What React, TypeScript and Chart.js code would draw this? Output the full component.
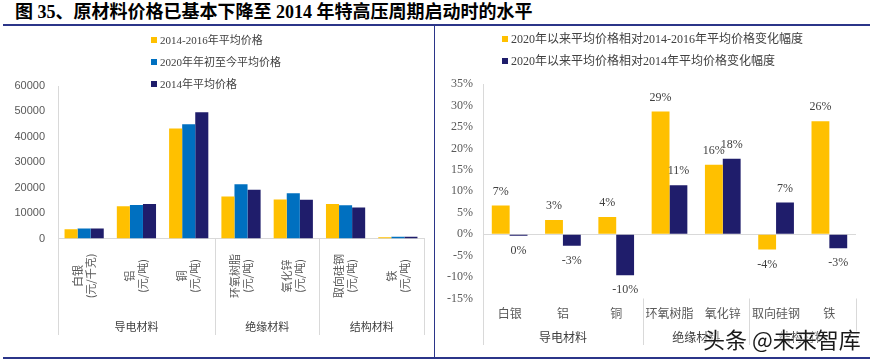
import React, { useEffect, useRef } from "react";
import { Chart, registerables } from "chart.js";

Chart.register(...registerables);

// ---------- DATA ----------
const titleText = "图 35、原材料价格已基本下降至 2014 年特高压周期启动时的水平";

const leftCategories: string[][] = [
  ["白银", "(元/千克)"],
  ["铝", "(元/吨)"],
  ["铜", "(元/吨)"],
  ["环氧树脂", "(元/吨)"],
  ["氧化锌", "(元/吨)"],
  ["取向硅钢", "(元/吨)"],
  ["铁", "(元/吨)"],
];
const leftSeriesNames = ["2014-2016年平均价格", "2020年年初至今平均价格", "2014年平均价格"];
const avg2014to2016 = [3650, 12700, 43300, 16500, 15300, 13600, 520];
const avg2020toDate = [3920, 13150, 45000, 21300, 17800, 13050, 655];
const avg2014 = [3940, 13580, 49700, 19200, 15200, 12150, 675];
const leftColors = ["#FFC000", "#0070C0", "#1F1D6B"];
const leftYMin = 0;
const leftYMax = 60000;
const leftYStep = 10000;

const groupNames = ["导电材料", "绝缘材料", "结构材料"];
const groupSpans = [3, 2, 2];

const rightCategories = ["白银", "铝", "铜", "环氧树脂", "氧化锌", "取向硅钢", "铁"];
const rightSeriesNames = [
  "2020年以来平均价格相对2014-2016年平均价格变化幅度",
  "2020年以来平均价格相对2014年平均价格变化幅度",
];
const changeVs2014to2016 = [6.7, 3.3, 4.0, 28.6, 16.2, -3.6, 26.3];
const changeVs2014 = [-0.4, -2.7, -9.6, 11.4, 17.6, 7.4, -3.3];
const rightColors = ["#FFC000", "#1F1D6B"];
const rightYMin = -15;
const rightYMax = 35;
const rightYStep = 5;

const watermark = "头条 @未来智库";

// ---------- STYLE ----------
const SERIF = "'Liberation Serif', 'Noto Sans CJK SC', serif";
const SANS = "'Liberation Sans', 'Noto Sans CJK SC', sans-serif";
const CJK = "'Noto Sans CJK SC', 'Liberation Serif', serif";
const AXIS_GRAY = "#d9d9d9";
const TEXT = "#404040";
const FRAME = "#2B3589";

function groupBoundaries(chart: any): number[] {
  const x = chart.scales.x;
  const area = chart.chartArea;
  const n = x.getLabels().length;
  const half = n > 1 ? (x.getPixelForValue(1) - x.getPixelForValue(0)) / 2 : (area.right - area.left) / 2;
  const bounds: number[] = [x.getPixelForValue(0) - half];
  let idx = 0;
  for (const s of groupSpans) {
    idx += s;
    bounds.push(x.getPixelForValue(idx - 1) + half);
  }
  return bounds;
}

const leftAxisPlugin = {
  id: "leftAxis",
  afterDraw(chart: any) {
    const ctx = chart.ctx;
    const x = chart.scales.x;
    const area = chart.chartArea;
    ctx.save();
    const bounds = groupBoundaries(chart);
    ctx.strokeStyle = AXIS_GRAY;
    ctx.lineWidth = 1;
    for (const b of bounds) {
      const bx = Math.round(b) + 0.5;
      ctx.beginPath();
      ctx.moveTo(bx, area.bottom);
      ctx.lineTo(bx, area.bottom + 96.5);
      ctx.stroke();
    }
    ctx.fillStyle = "#595959";
    ctx.font = `11px ${CJK}`;
    ctx.textAlign = "center";
    ctx.textBaseline = "middle";
    const lineH = 13;
    leftCategories.forEach((lines, i) => {
      const cx = x.getPixelForValue(i);
      const cy = area.bottom + 37.5;
      ctx.save();
      ctx.translate(cx, cy);
      ctx.rotate(-Math.PI / 2);
      lines.forEach((ln, j) => {
        ctx.fillText(ln, 0, (j - (lines.length - 1) / 2) * lineH);
      });
      ctx.restore();
    });
    ctx.fillStyle = TEXT;
    ctx.font = `11px ${CJK}`;
    groupNames.forEach((g, i) => {
      const gx = (bounds[i] + bounds[i + 1]) / 2;
      ctx.fillText(g, gx, area.bottom + 88.5);
    });
    ctx.restore();
  },
};

const rightAxisPlugin = {
  id: "rightAxis",
  afterDatasetsDraw(chart: any) {
    const ctx = chart.ctx;
    ctx.save();
    ctx.fillStyle = TEXT;
    ctx.font = `12px ${SERIF}`;
    ctx.textAlign = "center";
    ctx.textBaseline = "middle";
    chart.data.datasets.forEach((ds: any, di: number) => {
      const meta = chart.getDatasetMeta(di);
      meta.data.forEach((el: any, j: number) => {
        const v = ds.data[j] as number;
        const r = Math.round(v);
        const txt = `${r === 0 ? 0 : r}%`;
        const y = v >= 0 ? el.y - 14 : el.y + 15;
        ctx.fillText(txt, el.x, y);
      });
    });
    ctx.restore();
  },
  afterDraw(chart: any) {
    const ctx = chart.ctx;
    const x = chart.scales.x;
    const area = chart.chartArea;
    ctx.save();
    const bounds = groupBoundaries(chart);
    ctx.strokeStyle = AXIS_GRAY;
    ctx.lineWidth = 1;
    for (const b of bounds) {
      const bx = Math.round(b) + 0.5;
      ctx.beginPath();
      ctx.moveTo(bx, area.bottom);
      ctx.lineTo(bx, area.bottom + 46.5);
      ctx.stroke();
    }
    ctx.fillStyle = "#595959";
    ctx.font = `12px ${CJK}`;
    ctx.textAlign = "center";
    ctx.textBaseline = "middle";
    rightCategories.forEach((c, i) => {
      ctx.fillText(c, x.getPixelForValue(i), area.bottom + 15);
    });
    ctx.fillStyle = TEXT;
    groupNames.forEach((g, i) => {
      const gx = (bounds[i] + bounds[i + 1]) / 2;
      ctx.fillText(g, gx, area.bottom + 39);
    });
    ctx.restore();
  },
};

function LeftChart() {
  const ref = useRef<HTMLCanvasElement>(null);
  useEffect(() => {
    if (!ref.current) return;
    const series = [avg2014to2016, avg2020toDate, avg2014];
    const chart = new Chart(ref.current, {
      type: "bar",
      data: {
        labels: leftCategories.map((l) => l.join("")),
        datasets: series.map((d, i) => ({
          label: leftSeriesNames[i],
          data: d,
          backgroundColor: leftColors[i],
          borderWidth: 0,
          categoryPercentage: 0.75,
          barPercentage: 1,
        })),
      },
      options: {
        animation: false,
        responsive: false,
        maintainAspectRatio: false,
        layout: { padding: { top: 60, left: 0, right: 10, bottom: 0 } },
        plugins: { legend: { display: false }, tooltip: { enabled: false } },
        scales: {
          x: {
            ticks: { display: false },
            grid: { display: false },
            border: { display: true, color: AXIS_GRAY, width: 1 },
            afterFit: (s: any) => {
              s.height = 117.5;
            },
          },
          y: {
            min: leftYMin,
            max: leftYMax,
            ticks: {
              stepSize: leftYStep,
              padding: 13,
              color: "#595959",
              font: { family: SANS, size: 11 },
              callback: (v: any) => String(v),
            },
            grid: { display: false, drawTicks: false },
            border: { display: true, color: AXIS_GRAY, width: 1 },
            afterFit: (s: any) => {
              s.width = 58;
            },
          },
        },
      },
      plugins: [leftAxisPlugin],
    } as any);
    return () => chart.destroy();
  }, []);
  return (
    <canvas
      ref={ref}
      width={434}
      height={330}
      style={{ position: "absolute", left: 0, top: 26, width: 434, height: 330 }}
    />
  );
}

function RightChart() {
  const ref = useRef<HTMLCanvasElement>(null);
  useEffect(() => {
    if (!ref.current) return;
    const series = [changeVs2014to2016, changeVs2014];
    const chart = new Chart(ref.current, {
      type: "bar",
      data: {
        labels: rightCategories,
        datasets: series.map((d, i) => ({
          label: rightSeriesNames[i],
          data: d,
          backgroundColor: rightColors[i],
          borderWidth: 0,
          categoryPercentage: 0.67,
          barPercentage: 1,
        })),
      },
      options: {
        animation: false,
        responsive: false,
        maintainAspectRatio: false,
        layout: { padding: { top: 58, left: 0, right: 16, bottom: 0 } },
        plugins: { legend: { display: false }, tooltip: { enabled: false } },
        scales: {
          x: {
            ticks: { display: false },
            grid: { display: false },
            border: { display: false },
            afterFit: (s: any) => {
              s.height = 57.5;
            },
          },
          y: {
            min: rightYMin,
            max: rightYMax,
            ticks: {
              stepSize: rightYStep,
              padding: 10,
              color: "#595959",
              font: { family: SERIF, size: 12 },
              callback: (v: any) => `${v}%`,
            },
            grid: {
              display: true,
              drawTicks: false,
              color: (c: any) => (c.tick && c.tick.value === 0 ? AXIS_GRAY : "rgba(0,0,0,0)"),
            },
            border: { display: true, color: AXIS_GRAY, width: 1 },
            afterFit: (s: any) => {
              s.width = 48;
            },
          },
        },
      },
      plugins: [rightAxisPlugin],
    } as any);
    return () => chart.destroy();
  }, []);
  return (
    <canvas
      ref={ref}
      width={437}
      height={330}
      style={{ position: "absolute", left: 435, top: 26, width: 437, height: 330 }}
    />
  );
}

function Legend({
  names,
  colors,
  left,
  tops,
  size,
}: {
  names: string[];
  colors: string[];
  left: number;
  tops: number[];
  size: number;
}) {
  return (
    <>
      {names.map((n, i) => (
        <div
          key={n}
          style={{
            position: "absolute",
            left,
            top: tops[i] - 9,
            height: 18,
            lineHeight: "18px",
            display: "flex",
            alignItems: "center",
            whiteSpace: "nowrap",
            fontFamily: SERIF,
            fontSize: size,
            color: TEXT,
          }}
        >
          <span
            style={{
              display: "inline-block",
              width: 6,
              height: 6,
              background: colors[i],
              marginRight: 3,
            }}
          />
          {n}
        </div>
      ))}
    </>
  );
}

export default function App() {
  return (
    <div
      style={{
        position: "absolute",
        left: 0,
        top: 0,
        width: 872,
        height: 361,
        background: "#ffffff",
        overflow: "hidden",
      }}
    >
      <div
        style={{
          position: "absolute",
          left: 15,
          top: 0,
          height: 24,
          lineHeight: "24px",
          fontFamily: SERIF,
          fontWeight: "bold",
          fontSize: 18,
          color: "#000",
          whiteSpace: "nowrap",
        }}
      >
        {titleText}
      </div>
      <div style={{ position: "absolute", left: 3, top: 24, width: 867, height: 2, background: FRAME }} />
      <LeftChart />
      <RightChart />
      <div style={{ position: "absolute", left: 434, top: 26, width: 1, height: 331, background: FRAME }} />
      <div style={{ position: "absolute", left: 3, top: 357, width: 867, height: 2, background: FRAME }} />
      <Legend names={leftSeriesNames} colors={leftColors} left={151} tops={[40, 62, 84]} size={11} />
      <Legend names={rightSeriesNames} colors={rightColors} left={502} tops={[38.5, 61]} size={12} />
      <div
        style={{
          position: "absolute",
          left: 703,
          top: 324,
          height: 28,
          lineHeight: "28px",
          fontFamily: "'Noto Sans CJK SC', sans-serif",
          fontSize: 22,
          color: "#1a1a1a",
          whiteSpace: "nowrap",
          textShadow: "0 0 2px #fff, 0 0 2px #fff, 0 0 3px #fff",
        }}
      >
        {watermark}
      </div>
    </div>
  );
}
